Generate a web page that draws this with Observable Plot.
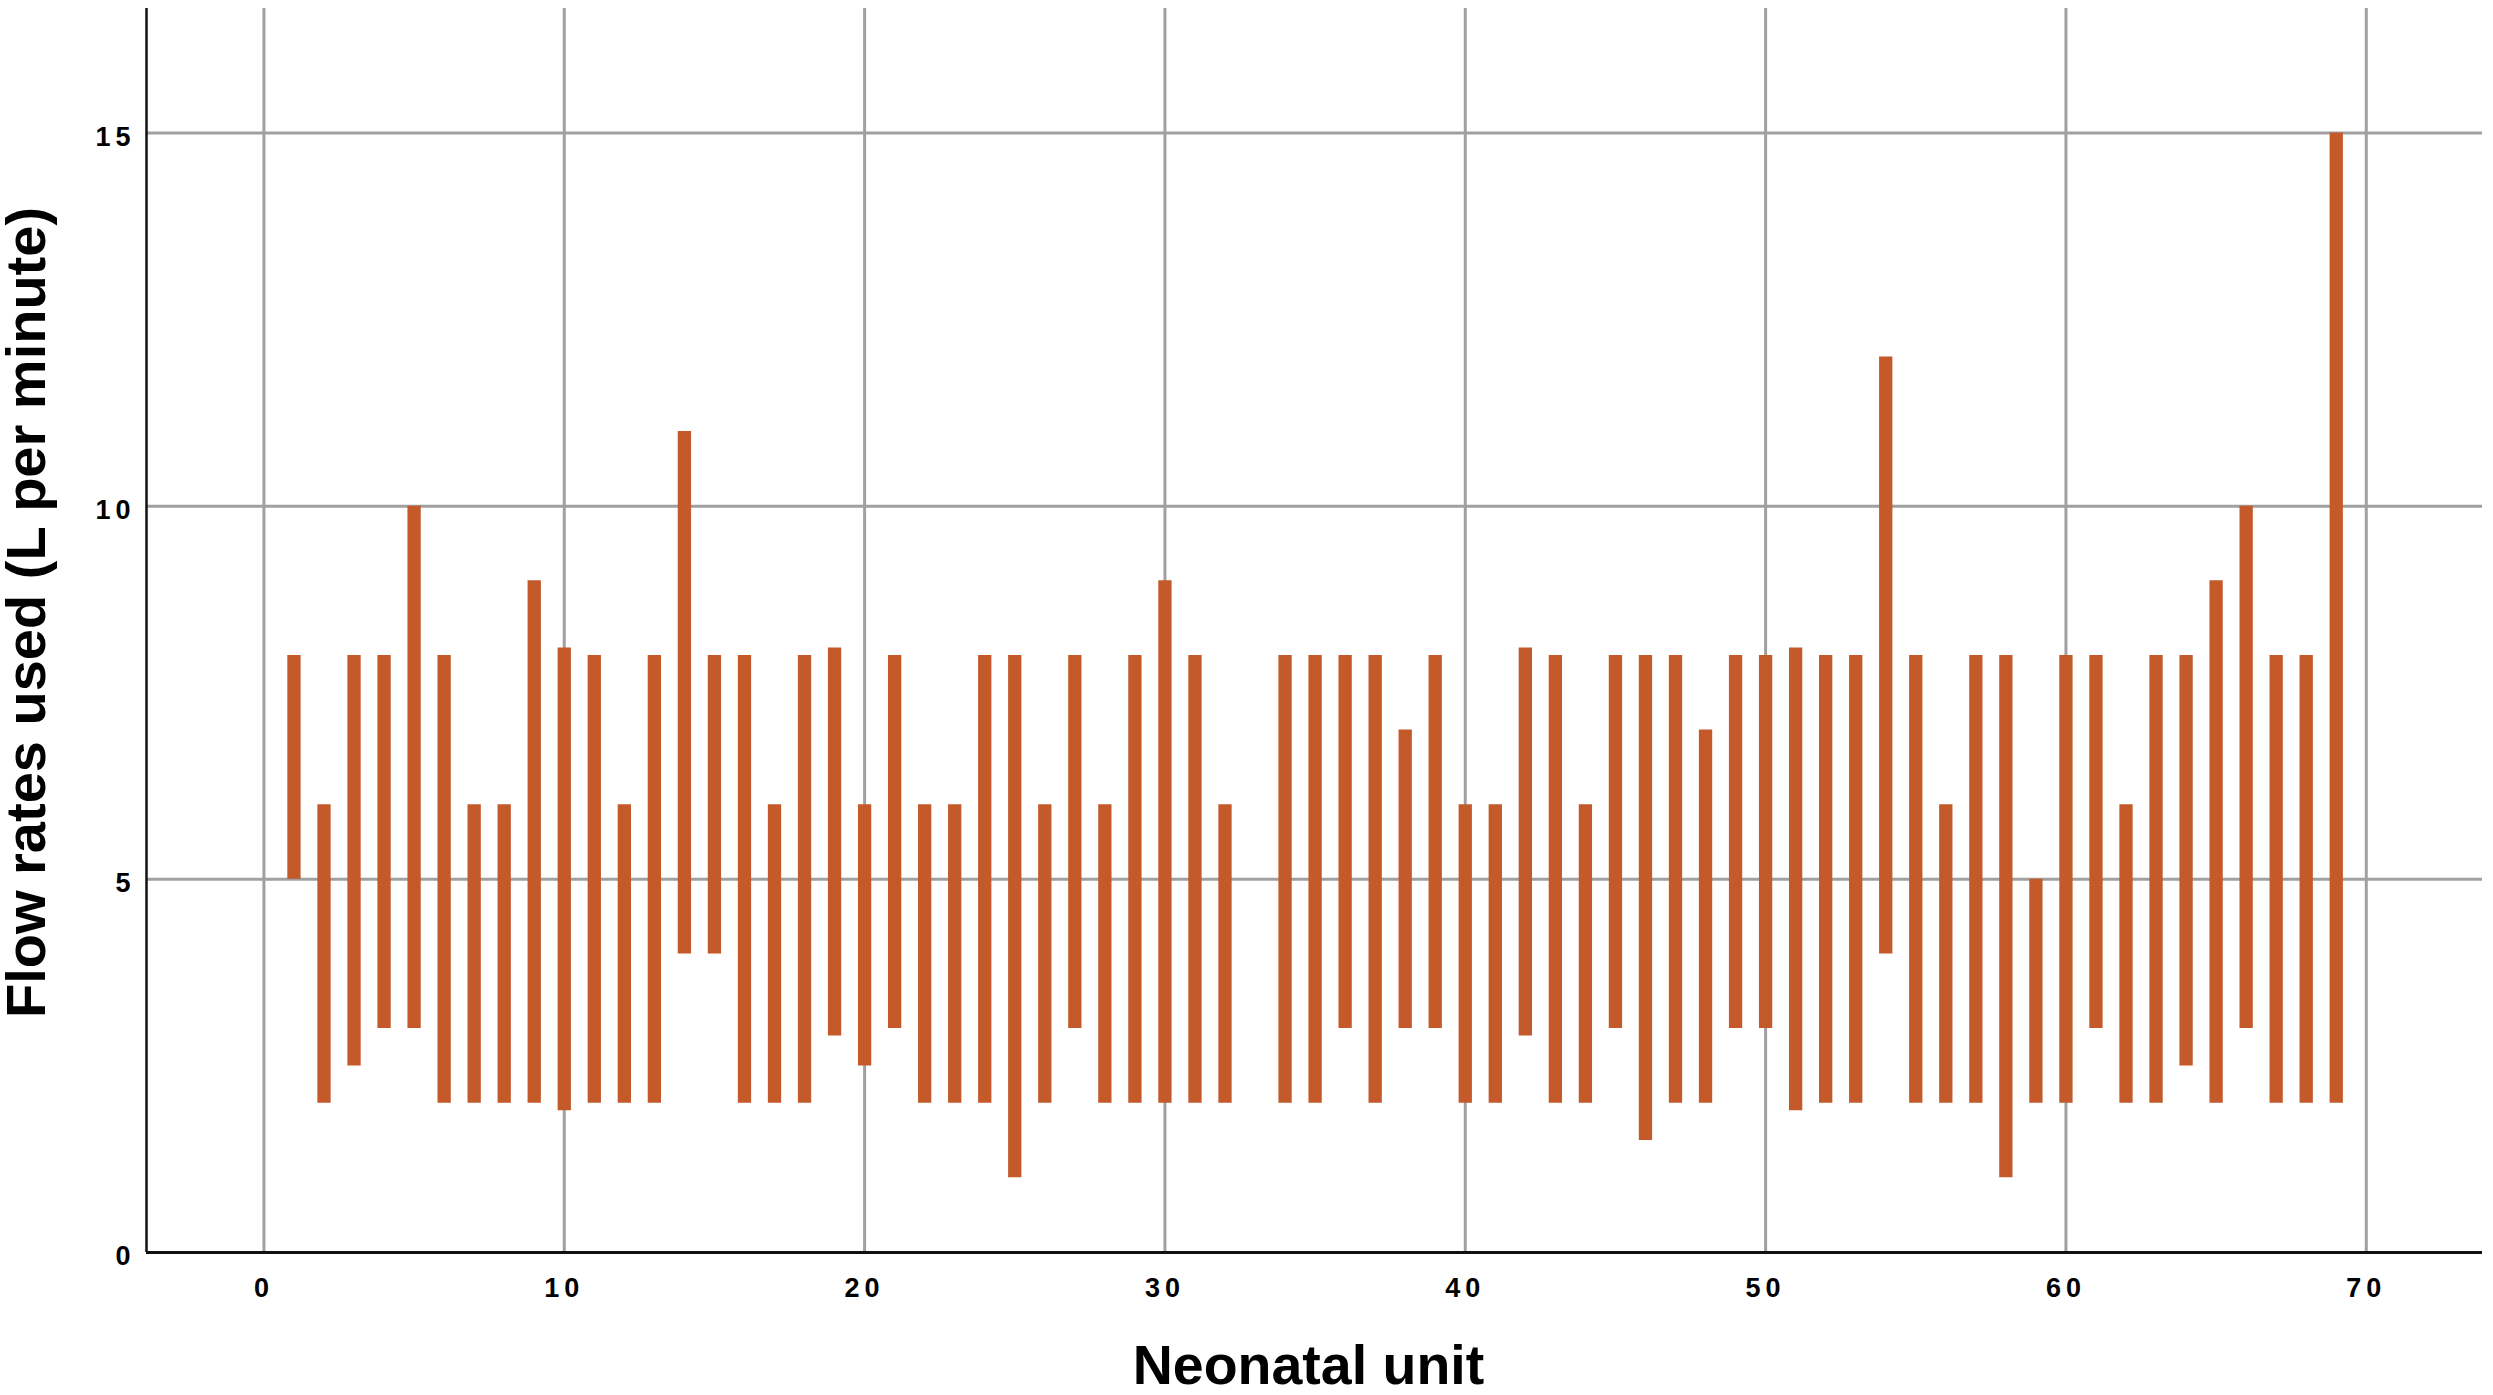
<!DOCTYPE html>
<html>
<head>
<meta charset="utf-8">
<script src="https://cdn.jsdelivr.net/npm/d3@7"></script>
<script src="https://cdn.jsdelivr.net/npm/@observablehq/plot@0.6"></script>
<style>
  html, body { margin: 0; padding: 0; background: #fff; }
  #chart svg { display: block; }
</style>
</head>
<body>
<div id="chart"></div>
<script>
// Neonatal unit index
const units = [1,2,3,4,5,6,7,8,9,10,11,12,13,14,15,16,17,18,19,20,21,22,23,24,25,26,27,28,29,30,31,32,
  34,35,36,37,38,39,40,41,42,43,44,45,46,47,48,49,50,51,52,53,54,55,56,57,58,59,60,61,62,63,64,65,66,67,68,69];
// Lowest flow rate used (L/min)
const lowFlow = [5,2,2.5,3,3,2,2,2,2,1.9,2,2,2,4,4,2,2,2,2.9,2.5,3,2,2,2,1,2,3,2,2,2,2,2,
  2,2,3,2,3,3,2,2,2.9,2,2,3,1.5,2,2,3,3,1.9,2,2,4,2,2,2,1,2,2,3,2,2,2.5,2,3,2,2,2];
// Highest flow rate used (L/min)
const highFlow = [8,6,8,8,10,8,6,6,9,8.1,8,6,8,11,8,8,6,8,8.1,6,8,6,6,8,8,6,8,6,8,9,8,6,
  8,8,8,8,7,8,6,6,8.1,8,6,8,8,8,7,8,8,8.1,8,8,12,8,6,8,8,5,8,8,6,8,8,9,10,8,8,15];

const xTicks = [0,10,20,30,40,50,60,70];
const yTicks = [0,5,10,15];
const xDomain = [-3.91, 73.87];
const yDomain = [0, 16.67];
const xTitle = "Neonatal unit";
const yTitle = "Flow rates used (L per minute)";

const data = units.map((u, i) => ({unit: u, low: lowFlow[i], high: highFlow[i]}));

const barColor = "#C4592A";
const gridColor = "#a0a0a0";
const font = "'Liberation Sans', Arial, Helvetica, sans-serif";

const chart = Plot.plot({
  width: 2493,
  height: 1395,
  marginLeft: 146,
  marginRight: 11,
  marginTop: 8,
  marginBottom: 143,
  style: {fontFamily: font, background: "#fff", color: "#000"},
  x: {domain: xDomain, ticks: xTicks, label: null},
  y: {domain: yDomain, ticks: yTicks, label: null},
  marks: [
    Plot.gridX(xTicks, {stroke: gridColor, strokeOpacity: 1, strokeWidth: 3}),
    Plot.gridY(yTicks, {stroke: gridColor, strokeOpacity: 1, strokeWidth: 3}),
    Plot.ruleX(data, {x: "unit", y1: "low", y2: "high", stroke: barColor, strokeWidth: 13.3}),
    Plot.ruleY(yDomain.slice(0, 1), {stroke: "#111", strokeWidth: 3}),
    Plot.ruleX(xDomain.slice(0, 1), {stroke: "#111", strokeWidth: 2.5}),
    Plot.axisX(xTicks, {tickSize: 0, tickPadding: 25, fontSize: 27, fontWeight: "bold", label: null, tickFormat: d => String(d)}),
    Plot.axisY(yTicks, {tickSize: 0, tickPadding: 11, fontSize: 27, fontWeight: "bold", label: null, dy: 4, tickFormat: d => String(d)}),
    Plot.text([yTitle], {frameAnchor: "left", textAnchor: "middle", rotate: -90, dx: -102, dy: -18, fontSize: 56, fontWeight: "bold", fill: "#000", lineAnchor: "bottom"}),
    Plot.text([xTitle], {frameAnchor: "bottom", dx: -6, dy: 131, fontSize: 55.5, fontWeight: "bold", fill: "#000", lineAnchor: "bottom"})
  ]
});

d3.select(chart).selectAll("g[aria-label='x-axis tick label'] text, g[aria-label='y-axis tick label'] text")
  .style("letter-spacing", "5px");

document.getElementById("chart").appendChild(chart);
</script>
</body>
</html>
